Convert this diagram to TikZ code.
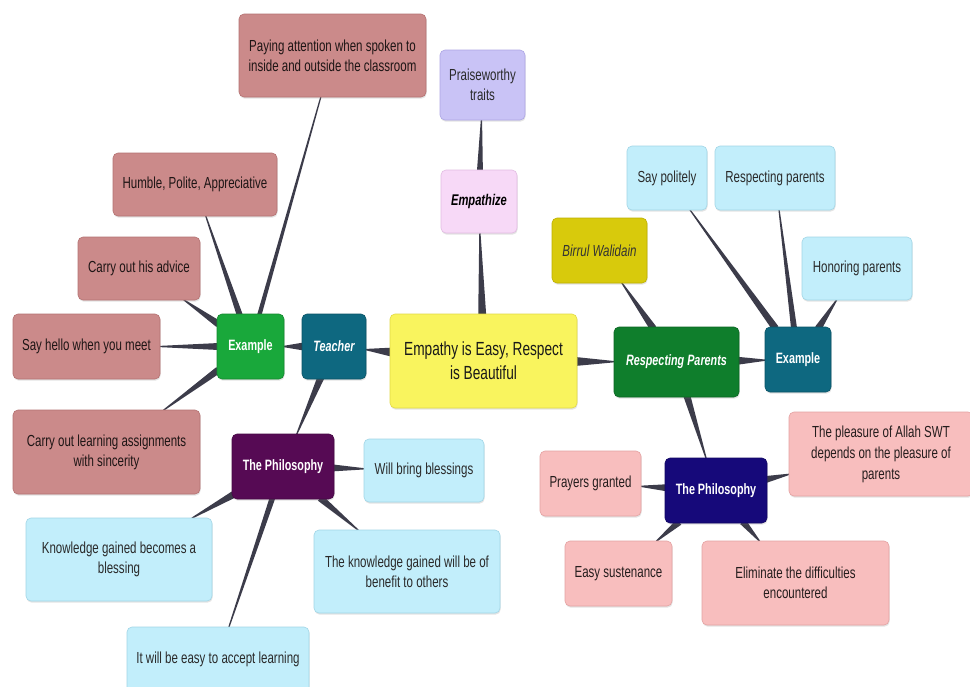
\documentclass[tikz,border=0pt]{standalone}
\usepackage{fontspec}
\setmainfont{Liberation Sans}[FakeStretch=0.72]
\usetikzlibrary{calc,shadows}
\pgfdeclarelayer{back}
\pgfdeclarelayer{bg}
\pgfsetlayers{back,bg,main}
\definecolor{rosefill}{HTML}{CB8A8A}
\definecolor{roseedge}{HTML}{B47272}
\definecolor{lavfill}{HTML}{C9C3F6}
\definecolor{lavedge}{HTML}{ADA6E4}
\definecolor{empfill}{HTML}{F7D9F7}
\definecolor{empedge}{HTML}{E2BCE2}
\definecolor{grnfill}{HTML}{19A83B}
\definecolor{tealfill}{HTML}{0E6880}
\definecolor{yelfill}{HTML}{F9F45E}
\definecolor{yeledge}{HTML}{E2DA45}
\definecolor{purfill}{HTML}{560A54}
\definecolor{bluefill}{HTML}{C2EEFB}
\definecolor{blueedge}{HTML}{A2D6E6}
\definecolor{olvfill}{HTML}{D8CA0C}
\definecolor{olvedge}{HTML}{BDB000}
\definecolor{dgrnfill}{HTML}{0F7E2C}
\definecolor{navyfill}{HTML}{16097A}
\definecolor{pinkfill}{HTML}{F8BEBE}
\definecolor{pinkedge}{HTML}{E4A2A2}
\definecolor{connc}{HTML}{3C3C4A}
\definecolor{textc}{HTML}{2A2A2A}
\tikzset{
  box/.style={rounded corners=5pt, inner sep=2pt, align=center, line width=0.6pt,
    text=textc, font=\fontsize{16}{20}\selectfont,
    drop shadow={opacity=0.22, shadow xshift=0.6pt, shadow yshift=-1.6pt}},
  sz/.style 2 args={minimum width=#1pt, minimum height=#2pt},
  rosebx/.style={box, fill=rosefill, draw=roseedge, text=black!85!rosefill},
  bluebx/.style={box, fill=bluefill, draw=blueedge},
  pinkbx/.style={box, fill=pinkfill, draw=pinkedge, text=black!85!pinkfill},
  darkbx/.style={box, fill=#1, draw=#1!80!black, text=white,
    font=\fontsize{15}{18}\selectfont\bfseries},
}
\newcommand\tconn[3][3.5]{%
  \path (#2) -- (#3) coordinate[pos=0] (ta) coordinate[pos=1] (tb);
  \coordinate (ta2) at ($(ta)!-2pt!(tb)$);
  \coordinate (tb2) at ($(tb)!-1pt!(ta)$);
  \fill[connc] ($(ta2)!#1pt!90:(tb2)$) -- ($(tb2)!0.6pt!-90:(ta2)$)
    -- ($(tb2)!0.6pt!90:(ta2)$) -- ($(ta2)!#1pt!-90:(tb2)$) -- cycle;}
\begin{document}
\begin{tikzpicture}[x=1pt,y=-1pt]
\useasboundingbox (0,0) rectangle (970,686);
\begin{pgfonlayer}{back}
\fill[white] (0,0) rectangle (970,686);
\end{pgfonlayer}
% left side
\node[rosebx, sz={187}{83}] (pay) at (332.5,55.5) {Paying attention when spoken to\\inside and outside the classroom};
\node[rosebx, sz={164}{63}] (humble) at (195,184.5) {Humble, Polite, Appreciative};
\node[rosebx, sz={122}{63}] (advice) at (139,268.5) {Carry out his advice};
\node[rosebx, sz={147}{65}] (hello) at (86.5,346.5) {Say hello when you meet};
\node[rosebx, sz={187}{84}] (assign) at (106.5,452) {Carry out learning assignments\\with sincerity};
\node[darkbx=grnfill, sz={67}{65}] (exL) at (250.5,346.5) {Example};
\node[darkbx=tealfill, sz={64}{65}, font=\fontsize{15}{18}\selectfont\bfseries\itshape] (teacher) at (334,346.5) {Teacher};
\node[darkbx=purfill, sz={102}{65}] (philL) at (283,466.5) {The Philosophy};
\node[bluebx, sz={120}{63}] (bless) at (424,470.5) {Will bring blessings};
\node[bluebx, sz={186}{83}] (know) at (119,559.5) {Knowledge gained becomes a\\blessing};
\node[bluebx, sz={186}{83}] (benefit) at (407,571.5) {The knowledge gained will be of\\benefit to others};
\node[bluebx, sz={182}{65}] (easy) at (218,659.5) {It will be easy to accept learning};
% centre
\node[box, fill=lavfill, draw=lavedge, sz={85}{70}] (praise) at (482.5,85) {Praiseworthy\\traits};
\node[box, fill=empfill, draw=empedge, sz={76}{63}, text=black, font=\fontsize{15.5}{18}\selectfont\bfseries\itshape] (emp) at (479,201.5) {Empathize};
\node[box, fill=yelfill, draw=yeledge, sz={187}{94}, text=black!90, font=\fontsize{19}{24}\selectfont] (main) at (483.5,361) {Empathy is Easy, Respect\\is Beautiful};
% right side
\node[box, fill=olvfill, draw=olvedge, sz={95}{65}, text=black!80, font=\fontsize{16}{20}\selectfont\itshape] (birrul) at (599.5,250.5) {Birrul Walidain};
\node[bluebx, sz={80}{64}] (polite) at (667,178) {Say politely};
\node[bluebx, sz={120}{64}] (resp) at (775,178) {Respecting parents};
\node[bluebx, sz={110}{63}] (honor) at (857,268.5) {Honoring parents};
\node[darkbx=dgrnfill, sz={125}{70}, font=\fontsize{15}{18}\selectfont\bfseries\itshape] (rp) at (676.5,362) {Respecting Parents};
\node[darkbx=tealfill, sz={66}{65}] (exR) at (798,359.5) {Example};
\node[darkbx=navyfill, sz={102}{65}] (philR) at (716,490.5) {The Philosophy};
\node[pinkbx, sz={184}{84}, font=\fontsize{16}{21}\selectfont] (pleasure) at (881,454) {The pleasure of Allah SWT\\depends on the pleasure of\\parents};
\node[pinkbx, sz={101}{65}] (prayers) at (590.5,483.5) {Prayers granted};
\node[pinkbx, sz={107}{65}] (sust) at (618.5,573.5) {Easy sustenance};
\node[pinkbx, sz={187}{84}] (elim) at (795.5,583) {Eliminate the difficulties\\encountered};
% connectors
\begin{pgfonlayer}{bg}
\tconn[4]{main}{emp}
\tconn[3]{emp}{praise}
\tconn[4.5]{main}{teacher}
\tconn[4.5]{main}{rp}
\tconn[4]{teacher}{exL}
\tconn{teacher}{philL}
\tconn[2.2]{exL}{pay}
\tconn[3]{exL}{humble}
\tconn{exL}{advice}
\tconn{exL}{hello}
\tconn{exL}{assign}
\tconn{philL}{bless}
\tconn{philL}{know}
\tconn{philL}{benefit}
\tconn[2.8]{philL}{easy}
\tconn{rp}{birrul}
\tconn[4]{rp}{exR}
\tconn{rp}{philR}
\tconn{exR}{polite}
\tconn[3]{exR}{resp}
\tconn{exR}{honor}
\tconn{philR}{prayers}
\tconn{philR}{pleasure}
\tconn{philR}{sust}
\tconn{philR}{elim}
\end{pgfonlayer}
\end{tikzpicture}
\end{document}
